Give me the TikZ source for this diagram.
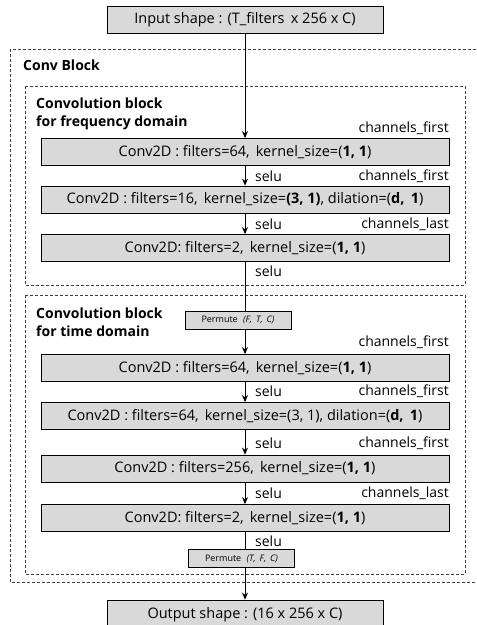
\documentclass[tikz,border=0pt]{standalone}
\usepackage{fontspec}
\setmainfont{Open Sans}
\usetikzlibrary{arrows.meta}
\definecolor{caixa}{HTML}{D9D9D9}
\definecolor{borda}{HTML}{3F3F3F}
\begin{document}
\begin{tikzpicture}[x=1pt, y=-1pt,
		bloco/.style={draw=black, fill=caixa, line width=0.8pt, minimum width=408pt, minimum height=27pt, inner sep=0pt, font=\fontsize{14.5}{16}\selectfont},
		forma/.style={bloco, minimum width=276pt},
		permuta/.style={draw=black, fill=caixa, line width=0.8pt, minimum width=106pt, minimum height=18pt, inner sep=0pt, font=\fontsize{9}{10}\selectfont},
		tracejado/.style={draw=borda, dash pattern=on 3pt off 2pt, line width=0.8pt},
		titulo/.style={anchor=base west, align=left, inner sep=0pt, font=\fontsize{14}{18}\selectfont\bfseries},
		rotulo/.style={inner sep=0pt, font=\fontsize{14}{16}\selectfont},
		seta/.style={-{Stealth[length=7pt, width=6pt]}, line width=0.8pt},
		linha/.style={line width=0.8pt}]
	
		\useasboundingbox (0, 0) rectangle (477, 625);
		
		% Caixas tracejadas
		
		\draw[tracejado] (10, 49) rectangle (490, 582);
		
		\draw[tracejado] (25, 86) rectangle (465, 285);
		
		\draw[tracejado] (25, 295) rectangle (465, 574);
		
		\draw node[titulo] (t1) at (23, 70) {Conv Block} ;
		
		\draw node[titulo] (t2) at (36, 126) {Convolution block\\for frequency domain} ;
		
		\draw node[titulo] (t3) at (36, 336) {Convolution block\\for time domain} ;
		
		% Camadas
		
		\draw node[forma] (no1) at (245, 20) {Input shape : (T\_filters\, x 256 x C)} ;
		
		\draw node[bloco] (no2) at (245, 152) {Conv2D : filters=64,\, kernel\_size=(\textbf{1, 1})} ;
		
		\draw node[bloco] (no3) at (245, 199.5) {Conv2D : filters=16,\, kernel\_size=\textbf{(3, 1)}, dilation=(\textbf{d,\, 1})} ;
		
		\draw node[bloco] (no4) at (245, 248) {Conv2D: filters=2,\, kernel\_size=(\textbf{1, 1})} ;
		
		\draw node[permuta] (no5) at (238, 320) {Permute\,\, \textit{(F,\, T,\, C)}} ;
		
		\draw node[bloco] (no6) at (245, 368) {Conv2D : filters=64,\, kernel\_size=(\textbf{1, 1})} ;
		
		\draw node[bloco] (no7) at (245, 416) {Conv2D : filters=64,\, kernel\_size=(3, 1), dilation=(\textbf{d,\, 1})} ;
		
		\draw node[bloco] (no8) at (245, 468.5) {Conv2D : filters=256,\, kernel\_size=(\textbf{1, 1})} ;
		
		\draw node[bloco] (no9) at (245, 518) {Conv2D: filters=2,\, kernel\_size=(\textbf{1, 1})} ;
		
		\draw node[permuta] (no10) at (241.5, 558.5) {Permute\,\, \textit{(T,\, F,\, C)}} ;
		
		\draw node[forma, minimum height=30pt] (no11) at (245, 615) {Output shape : (16 x 256 x C)} ;
		
		% Ligacoes
		
		\draw[seta] (no1.south) -- (no2.north);
		
		\draw[seta] (no2.south) -- (no3.north);
		
		\draw[seta] (no3.south) -- (no4.north);
		
		\draw[linha] (no4.south) -- (no4.south |- no5.north);
		
		\draw[seta] (no4.south |- no5.south) -- (no6.north);
		
		\draw[seta] (no6.south) -- (no7.north);
		
		\draw[seta] (no7.south) -- (no8.north);
		
		\draw[seta] (no8.south) -- (no9.north);
		
		\draw[linha] (no9.south) -- (no9.south |- no10.north);
		
		\draw[seta] (no9.south |- no10.south) -- (no11.north);
		
		% Rotulos
		
		\draw node[rotulo, anchor=east] (c1) at (449, 128) {channels\_first} ;
		
		\draw node[rotulo, anchor=west] (s1) at (255, 176) {selu} ;
		
		\draw node[rotulo, anchor=east] (c2) at (449, 176) {channels\_first} ;
		
		\draw node[rotulo, anchor=west] (s2) at (255, 224) {selu} ;
		
		\draw node[rotulo, anchor=east] (c3) at (449, 224) {channels\_last} ;
		
		\draw node[rotulo, anchor=west] (s3) at (255, 271) {selu} ;
		
		\draw node[rotulo, anchor=east] (c4) at (449, 342) {channels\_first} ;
		
		\draw node[rotulo, anchor=west] (s4) at (255, 391) {selu} ;
		
		\draw node[rotulo, anchor=east] (c5) at (449, 391) {channels\_first} ;
		
		\draw node[rotulo, anchor=west] (s5) at (255, 443) {selu} ;
		
		\draw node[rotulo, anchor=east] (c6) at (449, 443) {channels\_first} ;
		
		\draw node[rotulo, anchor=west] (s6) at (255, 493) {selu} ;
		
		\draw node[rotulo, anchor=east] (c7) at (449, 493) {channels\_last} ;
		
		\draw node[rotulo, anchor=west] (s7) at (255, 541) {selu} ;
		
	\end{tikzpicture}
\end{document}
